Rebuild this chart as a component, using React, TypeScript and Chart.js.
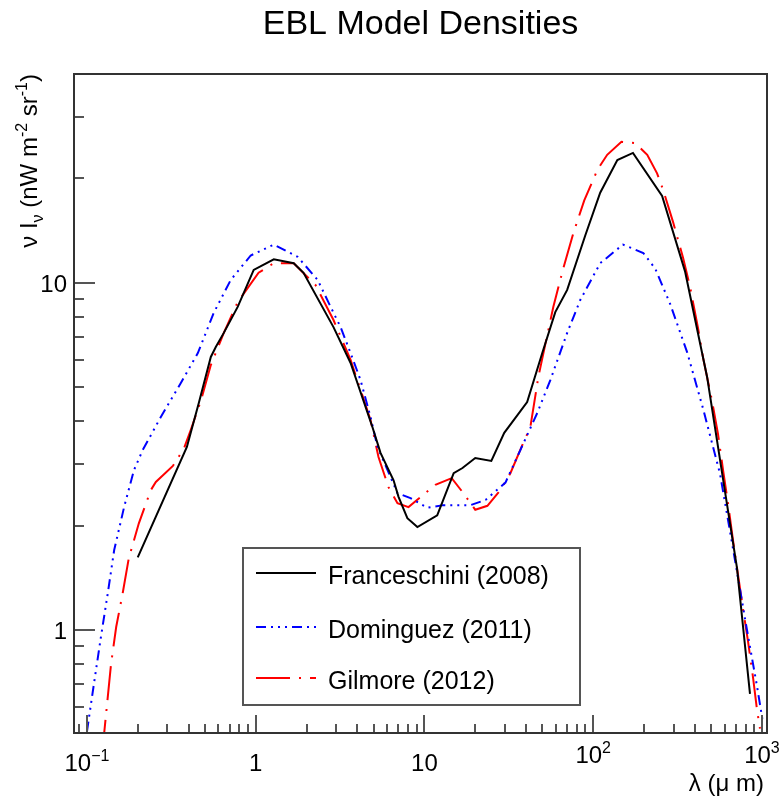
import React, { useEffect, useRef } from "react";
import { Chart, registerables } from "chart.js";

Chart.register(...registerables);

// ---- EBL model curves: wavelength (µm) and νIν (nW m^-2 sr^-1) ----
const franceschiniLambda = [
  0.2, 0.391, 0.46, 0.542, 0.58, 0.647, 0.782, 0.973, 1.28, 1.68, 1.92, 2.89, 3.65, 4.92, 5.49,
  6.56, 7.02, 7.92, 9.08, 11.9, 14.9, 16.8, 20.0, 24.9, 29.7, 40.6, 49.9, 59.6, 70.1, 89.7, 110,
  139, 172, 256, 350, 473, 588, 711, 849,
];
const franceschiniFlux = [
  1.62, 3.37, 4.51, 6.12, 6.54, 7.18, 8.53, 10.9, 11.7, 11.4, 10.7, 7.46, 5.88, 3.84, 3.24,
  2.7, 2.42, 2.1, 1.98, 2.14, 2.83, 2.93, 3.13, 3.07, 3.7, 4.54, 6.28, 8.24, 9.55, 13.7, 18.2,
  22.6, 23.7, 17.8, 10.8, 5.36, 2.72, 1.51, 0.655,
];

const dominguezLambda = [
  0.1, 0.11, 0.121, 0.133, 0.145, 0.166, 0.19, 0.214, 0.274, 0.36, 0.454, 0.564, 0.711, 0.934,
  1.28, 1.77, 2.33, 2.78, 3.18, 3.65, 4.18, 4.79, 5.27, 6.92, 8.26, 10.4, 12.9, 18.7, 23, 30.2,
  37, 46.6, 55.7, 70.1, 83.8, 110, 150, 198, 233, 286, 360, 448, 564, 673, 815, 934, 1014,
];
const dominguezFlux = [
  0.51, 0.7, 0.955, 1.28, 1.7, 2.26, 2.89, 3.3, 4.11, 5.15, 6.28, 8.2, 10.2, 12.0, 12.9, 11.9,
  10.2, 8.53, 7.47, 6.28, 5.25, 4.11, 3.37, 2.48, 2.4, 2.25, 2.29, 2.29, 2.37, 2.66, 3.3, 4.22,
  5.25, 7.18, 8.93, 11.4, 12.9, 12.2, 11.0, 8.69, 6.32, 4.34, 2.82, 1.72, 1.0, 0.69, 0.54,
];

const gilmoreLambda = [
  0.123, 0.139, 0.149, 0.163, 0.177, 0.203, 0.239, 0.256, 0.323, 0.375, 0.412, 0.473, 0.542,
  0.647, 0.782, 1.04, 1.28, 1.68, 2.26, 2.89, 3.65, 4.79, 5.34, 6.12, 6.92, 8.04, 11.6, 14.5,
  17.0, 20.0, 23.6, 28.2, 32.3, 38.0, 42.4, 47.3, 58.0, 66.4, 76.2, 88.5, 106, 121, 147, 177,
  209, 239, 260, 297, 341, 375, 418, 448, 506, 549, 588, 629, 673, 711, 772, 826, 885, 934, 973,
];
const gilmoreFlux = [
  0.44, 0.8, 1.02, 1.28, 1.61, 2.03, 2.53, 2.67, 2.97, 3.33, 3.77, 4.57, 5.8, 7.18, 8.81, 10.7,
  11.4, 11.4, 9.87, 7.82, 6.0, 4.03, 3.15, 2.58, 2.32, 2.26, 2.62, 2.74, 2.48, 2.22, 2.28, 2.53,
  2.83, 3.41, 3.84, 5.36, 8.53, 11.0, 13.9, 17.3, 21.2, 23.4, 25.5, 25.3, 23.4, 20.7, 18.5, 15.0,
  11.8, 9.73, 7.41, 6.08, 4.57, 3.67, 2.89, 2.32, 1.82, 1.51, 1.15, 0.93, 0.73, 0.59, 0.52,
];

const seriesNames = ["Franceschini (2008)", "Dominguez (2011)", "Gilmore (2012)"];

// ---- axis ranges and labels ----
const xRange = [0.0838, 1071];
const yRange = [0.505, 40];
const xTickValues = [0.1, 1, 10, 100, 1000];
const xTickBase = ["10", "1", "10", "10", "10"];
const xTickExponent = ["\u22121", "", "", "2", "3"];
const yTickValues = [1, 10];
const yTickLabels = ["1", "10"];
const chartTitle = "EBL Model Densities";

const FONT = '"Liberation Sans", Arial, Helvetica, sans-serif';

type Seg = { t: string; k?: "sup" | "sub" };

const yTitle: Seg[] = [
  { t: "\u03bd I" },
  { t: "\u03bd", k: "sub" },
  { t: " (nW m" },
  { t: "-2", k: "sup" },
  { t: " sr" },
  { t: "-1", k: "sup" },
  { t: ")" },
];
const xTitle: Seg[] = [{ t: "\u03bb (\u03bc m)" }];

const toPoints = (xs: number[], ys: number[]) => xs.map((x, i) => ({ x, y: ys[i] }));

function segFont(size: number, k?: string) {
  return `${k ? Math.round(size * 0.68) : size}px ${FONT}`;
}

function richWidth(ctx: CanvasRenderingContext2D, segs: Seg[], size: number) {
  let w = 0;
  for (const s of segs) {
    ctx.font = segFont(size, s.k);
    w += ctx.measureText(s.t).width;
  }
  return w;
}

function drawRich(
  ctx: CanvasRenderingContext2D,
  segs: Seg[],
  x: number,
  y: number,
  size: number,
  align: "left" | "center" | "right"
) {
  const w = richWidth(ctx, segs, size);
  let cx = align === "left" ? x : align === "right" ? x - w : x - w / 2;
  ctx.textAlign = "left";
  ctx.textBaseline = "alphabetic";
  for (const s of segs) {
    ctx.font = segFont(size, s.k);
    const dy = s.k === "sup" ? -size * 0.42 : s.k === "sub" ? size * 0.25 : 0;
    ctx.fillText(s.t, cx, y + dy);
    cx += ctx.measureText(s.t).width;
  }
}

// Frame, inward ticks, labels, titles and legend box drawn in the classic ROOT look.
const rootFrame = {
  id: "rootFrame",
  afterDatasetsDraw(chart: any) {
    const { ctx, chartArea: a, scales } = chart;
    const xs = scales.x;
    const ys = scales.y;
    ctx.save();

    // ticks
    ctx.strokeStyle = "#555555";
    ctx.lineWidth = 2;
    ctx.beginPath();
    for (let e = -2; e <= 3; e++) {
      for (let m = 1; m <= 9; m++) {
        const v = m * Math.pow(10, e);
        if (v >= xRange[0] && v <= xRange[1]) {
          const px = Math.round(xs.getPixelForValue(v));
          const len = m === 1 ? 18 : 9;
          ctx.moveTo(px, a.bottom);
          ctx.lineTo(px, a.bottom - len);
        }
        if (v >= yRange[0] && v <= yRange[1]) {
          const py = Math.round(ys.getPixelForValue(v));
          const len = m === 1 ? 21 : 10;
          ctx.moveTo(a.left, py);
          ctx.lineTo(a.left + len, py);
        }
      }
    }
    ctx.stroke();

    // frame
    ctx.strokeStyle = "#333333";
    ctx.lineWidth = 2;
    ctx.strokeRect(a.left, a.top, a.right - a.left, a.bottom - a.top);

    ctx.fillStyle = "#000000";

    // x tick labels
    xTickValues.forEach((v, i) => {
      const px = xs.getPixelForValue(v);
      const segs: Seg[] = [{ t: xTickBase[i] }];
      if (xTickExponent[i]) segs.push({ t: xTickExponent[i], k: "sup" });
      const base = xTickExponent[i] && v > 10 ? a.bottom + 30 : a.bottom + 38;
      drawRich(ctx, segs, px, base, 24, "center");
    });

    // y tick labels
    yTickValues.forEach((v, i) => {
      const py = ys.getPixelForValue(v);
      drawRich(ctx, [{ t: yTickLabels[i] }], a.left - 7, py + 9, 24, "right");
    });

    // axis titles
    drawRich(ctx, xTitle, a.right - 3, a.bottom + 58, 24, "right");
    ctx.save();
    ctx.translate(37, a.top);
    ctx.rotate(-Math.PI / 2);
    drawRich(ctx, yTitle, 0, 0, 24, "right");
    ctx.restore();

    // title
    drawRich(ctx, [{ t: chartTitle }], (a.left + a.right) / 2, 34, 34, "center");

    // legend
    const lx0 = 243, ly0 = 548, lx1 = 580, ly1 = 705;
    ctx.fillStyle = "#ffffff";
    ctx.fillRect(lx0, ly0, lx1 - lx0, ly1 - ly0);
    ctx.strokeStyle = "#555555";
    ctx.lineWidth = 2;
    ctx.strokeRect(lx0, ly0, lx1 - lx0, ly1 - ly0);
    const rows = [573, 627, 678];
    chart.data.datasets.forEach((ds: any, i: number) => {
      const ry = rows[i];
      ctx.save();
      ctx.strokeStyle = ds.borderColor;
      ctx.lineWidth = ds.borderWidth;
      ctx.setLineDash(ds.borderDash || []);
      ctx.beginPath();
      ctx.moveTo(256, ry);
      ctx.lineTo(316, ry);
      ctx.stroke();
      ctx.restore();
      ctx.fillStyle = "#000000";
      drawRich(ctx, [{ t: ds.label }], 328, ry + 11, 25, "left");
    });

    ctx.restore();
  },
};

export default function App() {
  const canvasRef = useRef<HTMLCanvasElement | null>(null);

  useEffect(() => {
    document.body.style.margin = "0";
    const canvas = canvasRef.current;
    if (!canvas) return;
    const chart = new Chart(canvas, {
      type: "line",
      data: {
        datasets: [
          {
            label: seriesNames[0],
            data: toPoints(franceschiniLambda, franceschiniFlux),
            borderColor: "#000000",
            borderWidth: 2,
            borderDash: [],
          },
          {
            label: seriesNames[1],
            data: toPoints(dominguezLambda, dominguezFlux),
            borderColor: "#0000ff",
            borderWidth: 2,
            borderDash: [10, 5, 2, 5, 2, 5, 2, 5],
          },
          {
            label: seriesNames[2],
            data: toPoints(gilmoreLambda, gilmoreFlux),
            borderColor: "#ff0000",
            borderWidth: 2,
            borderDash: [34, 9, 2, 9],
          },
        ],
      },
      options: {
        animation: false,
        responsive: false,
        parsing: true,
        layout: { padding: { left: 74, top: 74, right: 14, bottom: 64 } },
        elements: { point: { radius: 0, hoverRadius: 0 }, line: { tension: 0, fill: false } },
        plugins: {
          legend: { display: false },
          title: { display: false },
          tooltip: { enabled: false },
        },
        events: [],
        scales: {
          x: { type: "logarithmic", min: xRange[0], max: xRange[1], display: false },
          y: { type: "logarithmic", min: yRange[0], max: yRange[1], display: false },
        },
      },
      plugins: [rootFrame],
    } as any);
    return () => chart.destroy();
  }, []);

  return (
    <div style={{ width: 781, height: 797, background: "#ffffff" }}>
      <canvas ref={canvasRef} width={781} height={797} style={{ display: "block" }} />
    </div>
  );
}
